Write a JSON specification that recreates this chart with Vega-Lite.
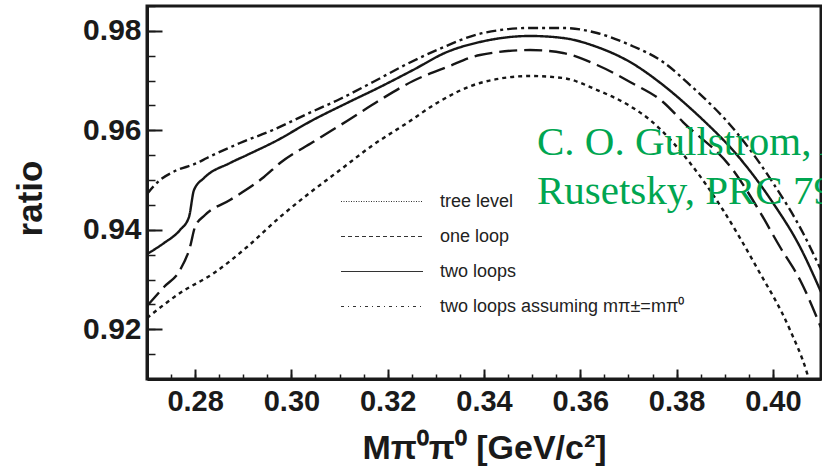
{
  "$schema": "https://vega.github.io/schema/vega-lite/v6.json",
  "width": 674,
  "height": 373,
  "autosize": {"type": "none"},
  "padding": {"left": 147, "top": 6, "right": 1, "bottom": 87},
  "background": "white",
  "config": {"view": {"stroke": "#1a1a1a", "strokeWidth": 3}, "font": "Liberation Sans"},
  "datasets": {
    "curves": [
      {"s": "tree level", "x": 0.27, "y": 0.92226},
      {"s": "tree level", "x": 0.27686, "y": 0.92729},
      {"s": "tree level", "x": 0.28392, "y": 0.93131},
      {"s": "tree level", "x": 0.29077, "y": 0.93654},
      {"s": "tree level", "x": 0.29763, "y": 0.94257},
      {"s": "tree level", "x": 0.30324, "y": 0.947},
      {"s": "tree level", "x": 0.31009, "y": 0.95202},
      {"s": "tree level", "x": 0.31695, "y": 0.95705},
      {"s": "tree level", "x": 0.32401, "y": 0.96147},
      {"s": "tree level", "x": 0.33024, "y": 0.9655},
      {"s": "tree level", "x": 0.33917, "y": 0.96952},
      {"s": "tree level", "x": 0.34956, "y": 0.97092},
      {"s": "tree level", "x": 0.35641, "y": 0.97052},
      {"s": "tree level", "x": 0.36348, "y": 0.96811},
      {"s": "tree level", "x": 0.37033, "y": 0.96489},
      {"s": "tree level", "x": 0.37449, "y": 0.96208},
      {"s": "tree level", "x": 0.3828, "y": 0.95343},
      {"s": "tree level", "x": 0.38965, "y": 0.94398},
      {"s": "tree level", "x": 0.39671, "y": 0.93232},
      {"s": "tree level", "x": 0.40357, "y": 0.91985},
      {"s": "tree level", "x": 0.4071, "y": 0.9112},
      {"s": "tree level", "x": 0.4081, "y": 0.90778},
      {"s": "one loop", "x": 0.27, "y": 0.92467},
      {"s": "one loop", "x": 0.27353, "y": 0.9285},
      {"s": "one loop", "x": 0.27686, "y": 0.93191},
      {"s": "one loop", "x": 0.27893, "y": 0.93654},
      {"s": "one loop", "x": 0.27997, "y": 0.94056},
      {"s": "one loop", "x": 0.28205, "y": 0.94297},
      {"s": "one loop", "x": 0.28724, "y": 0.94599},
      {"s": "one loop", "x": 0.2943, "y": 0.95061},
      {"s": "one loop", "x": 0.29763, "y": 0.95343},
      {"s": "one loop", "x": 0.30448, "y": 0.95765},
      {"s": "one loop", "x": 0.31155, "y": 0.96188},
      {"s": "one loop", "x": 0.3184, "y": 0.9661},
      {"s": "one loop", "x": 0.32526, "y": 0.96992},
      {"s": "one loop", "x": 0.33232, "y": 0.97273},
      {"s": "one loop", "x": 0.33917, "y": 0.97515},
      {"s": "one loop", "x": 0.34956, "y": 0.97615},
      {"s": "one loop", "x": 0.35641, "y": 0.97555},
      {"s": "one loop", "x": 0.36348, "y": 0.97314},
      {"s": "one loop", "x": 0.37033, "y": 0.96972},
      {"s": "one loop", "x": 0.37719, "y": 0.9657},
      {"s": "one loop", "x": 0.38134, "y": 0.96167},
      {"s": "one loop", "x": 0.39173, "y": 0.95202},
      {"s": "one loop", "x": 0.39671, "y": 0.94458},
      {"s": "one loop", "x": 0.40149, "y": 0.93654},
      {"s": "one loop", "x": 0.40565, "y": 0.9299},
      {"s": "one loop", "x": 0.4102, "y": 0.91985},
      {"s": "two loops", "x": 0.27, "y": 0.93513},
      {"s": "two loops", "x": 0.27353, "y": 0.93734},
      {"s": "two loops", "x": 0.27686, "y": 0.93996},
      {"s": "two loops", "x": 0.27872, "y": 0.94257},
      {"s": "two loops", "x": 0.27976, "y": 0.948},
      {"s": "two loops", "x": 0.28184, "y": 0.95041},
      {"s": "two loops", "x": 0.28724, "y": 0.95343},
      {"s": "two loops", "x": 0.29077, "y": 0.95504},
      {"s": "two loops", "x": 0.29638, "y": 0.95765},
      {"s": "two loops", "x": 0.30448, "y": 0.96208},
      {"s": "two loops", "x": 0.31155, "y": 0.9655},
      {"s": "two loops", "x": 0.3184, "y": 0.96871},
      {"s": "two loops", "x": 0.32526, "y": 0.97213},
      {"s": "two loops", "x": 0.33232, "y": 0.97575},
      {"s": "two loops", "x": 0.33917, "y": 0.97776},
      {"s": "two loops", "x": 0.34956, "y": 0.97897},
      {"s": "two loops", "x": 0.35641, "y": 0.97857},
      {"s": "two loops", "x": 0.36348, "y": 0.97676},
      {"s": "two loops", "x": 0.37033, "y": 0.97374},
      {"s": "two loops", "x": 0.37719, "y": 0.96911},
      {"s": "two loops", "x": 0.3828, "y": 0.96449},
      {"s": "two loops", "x": 0.3855, "y": 0.96208},
      {"s": "two loops", "x": 0.39256, "y": 0.95504},
      {"s": "two loops", "x": 0.40004, "y": 0.94539},
      {"s": "two loops", "x": 0.40565, "y": 0.93654},
      {"s": "two loops", "x": 0.41, "y": 0.92749},
      {"s": "assuming", "x": 0.27, "y": 0.9472},
      {"s": "assuming", "x": 0.2727, "y": 0.95001},
      {"s": "assuming", "x": 0.2754, "y": 0.95162},
      {"s": "assuming", "x": 0.28039, "y": 0.95343},
      {"s": "assuming", "x": 0.28246, "y": 0.95444},
      {"s": "assuming", "x": 0.28932, "y": 0.95745},
      {"s": "assuming", "x": 0.29617, "y": 0.96007},
      {"s": "assuming", "x": 0.30324, "y": 0.96328},
      {"s": "assuming", "x": 0.31009, "y": 0.9663},
      {"s": "assuming", "x": 0.31695, "y": 0.96972},
      {"s": "assuming", "x": 0.32401, "y": 0.97334},
      {"s": "assuming", "x": 0.33024, "y": 0.97615},
      {"s": "assuming", "x": 0.3398, "y": 0.97957},
      {"s": "assuming", "x": 0.34956, "y": 0.98058},
      {"s": "assuming", "x": 0.35641, "y": 0.98058},
      {"s": "assuming", "x": 0.36348, "y": 0.97957},
      {"s": "assuming", "x": 0.37033, "y": 0.97716},
      {"s": "assuming", "x": 0.37719, "y": 0.97374},
      {"s": "assuming", "x": 0.3828, "y": 0.96911},
      {"s": "assuming", "x": 0.39256, "y": 0.95946},
      {"s": "assuming", "x": 0.40004, "y": 0.94941},
      {"s": "assuming", "x": 0.40627, "y": 0.93935},
      {"s": "assuming", "x": 0.41, "y": 0.93191}
    ],
    "notes": [
      {"note": "C. O. Gullstrom, A. Kupsc, A.\nRusetsky, PRC 79 (2009) 028201"}
    ]
  },
  "layer": [
    {
      "data": {"name": "curves"},
      "mark": {"type": "line", "clip": true, "strokeWidth": 2.4, "color": "#161616", "interpolate": "monotone"},
      "encoding": {
        "x": {
          "field": "x", "type": "quantitative",
          "scale": {"domain": [0.27, 0.41], "nice": false, "zero": false},
          "axis": {
            "orient": "bottom",
            "values": [0.28, 0.30, 0.32, 0.34, 0.36, 0.38, 0.40],
            "format": ".2f", "grid": false,
            "tickSize": -10, "tickWidth": 2, "tickColor": "#1a1a1a",
            "domainWidth": 3, "domainColor": "#1a1a1a",
            "labelFont": "Liberation Sans", "labelFontSize": 29, "labelFontWeight": "bold", "labelColor": "#1a1a1a",
            "labelPadding": 18, "labelFlush": false,
            "title": "Mπ⁰π⁰ [GeV/c²]",
            "titleFont": "Liberation Sans", "titleFontSize": 34, "titleFontWeight": "bold", "titleColor": "#1a1a1a",
            "titleBaseline": "alphabetic", "titleY": 79
          }
        },
        "y": {
          "field": "y", "type": "quantitative",
          "scale": {"domain": [0.91, 0.985], "nice": false, "zero": false},
          "axis": {
            "orient": "left",
            "values": [0.92, 0.94, 0.96, 0.98],
            "format": ".2f", "grid": false,
            "tickSize": -15, "tickWidth": 2, "tickColor": "#1a1a1a",
            "domainWidth": 3, "domainColor": "#1a1a1a",
            "labelFont": "Liberation Sans", "labelFontSize": 30, "labelFontWeight": "bold", "labelColor": "#1a1a1a",
            "labelPadding": 21,
            "title": "ratio",
            "titleFont": "Liberation Sans", "titleFontSize": 35, "titleFontWeight": "bold", "titleColor": "#1a1a1a",
            "titleAngle": 270, "titleAlign": "center", "titleBaseline": "middle",
            "titleX": -117, "titleY": 192
          }
        },
        "strokeDash": {
          "field": "s", "type": "nominal",
          "scale": {
            "domain": ["tree level", "one loop", "two loops", "assuming"],
            "range": [[4, 4], [18, 7], [1, 0], [10, 4, 3, 4]]
          },
          "legend": null
        }
      }
    },
    {
      "data": {"name": "curves"},
      "mark": {"type": "line", "clip": true, "strokeWidth": 1, "color": "#333333", "opacity": 0},
      "encoding": {
        "x": {
          "field": "x", "type": "quantitative",
          "scale": {"domain": [0.27, 0.41], "nice": false, "zero": false},
          "axis": null
        },
        "y": {
          "field": "y", "type": "quantitative",
          "scale": {"domain": [0.91, 0.985], "nice": false, "zero": false},
          "axis": null
        },
        "strokeDash": {
          "field": "s", "type": "nominal",
          "scale": {
            "domain": ["tree level", "one loop", "two loops", "assuming"],
            "range": [[1, 1.5], [4, 3], [1, 0], [3, 4, 1, 4]]
          },
          "legend": {
            "orient": "none", "legendX": 193, "legendY": 178,
            "title": null, "padding": 0,
            "symbolType": "stroke", "symbolSize": 6724, "clipHeight": 35, "rowPadding": 0,
            "symbolStrokeWidth": 1.2, "symbolStrokeColor": "#333333", "symbolOpacity": 1,
            "labelOffset": 16, "labelFont": "Liberation Sans", "labelFontSize": 18, "labelColor": "#222222", "labelLimit": 0,
            "labelExpr": "datum.label == 'assuming' ? 'two loops assuming mπ±=mπ⁰' : datum.label"
          }
        }
      }
    },
    {
      "data": {"name": "notes"},
      "mark": {"type": "text", "color": "#00a651", "font": "Liberation Serif", "fontSize": 41, "align": "left", "baseline": "alphabetic", "lineBreak": "\n", "lineHeight": 49},
      "encoding": {
        "text": {"field": "note"},
        "x": {
          "datum": 0.351, "type": "quantitative",
          "scale": {"domain": [0.27, 0.41], "nice": false, "zero": false},
          "axis": {
            "orient": "bottom",
            "values": [0.27, 0.275, 0.28, 0.285, 0.29, 0.295, 0.3, 0.305, 0.31, 0.315, 0.32, 0.325, 0.33, 0.335, 0.34, 0.345, 0.35, 0.355, 0.36, 0.365, 0.37, 0.375, 0.38, 0.385, 0.39, 0.395, 0.4, 0.405, 0.41],
            "labels": false, "domain": false, "grid": false, "title": null,
            "tickSize": -5, "tickWidth": 1.5, "tickColor": "#1a1a1a"
          }
        },
        "y": {
          "datum": 0.955, "type": "quantitative",
          "scale": {"domain": [0.91, 0.985], "nice": false, "zero": false},
          "axis": {
            "orient": "left",
            "values": [0.91, 0.915, 0.92, 0.925, 0.93, 0.935, 0.94, 0.945, 0.95, 0.955, 0.96, 0.965, 0.97, 0.975, 0.98, 0.985],
            "labels": false, "domain": false, "grid": false, "title": null,
            "tickSize": -8, "tickWidth": 1.5, "tickColor": "#1a1a1a"
          }
        }
      }
    }
  ],
  "resolve": {"axis": {"x": "independent", "y": "independent"}, "scale": {"strokeDash": "independent"}}
}
